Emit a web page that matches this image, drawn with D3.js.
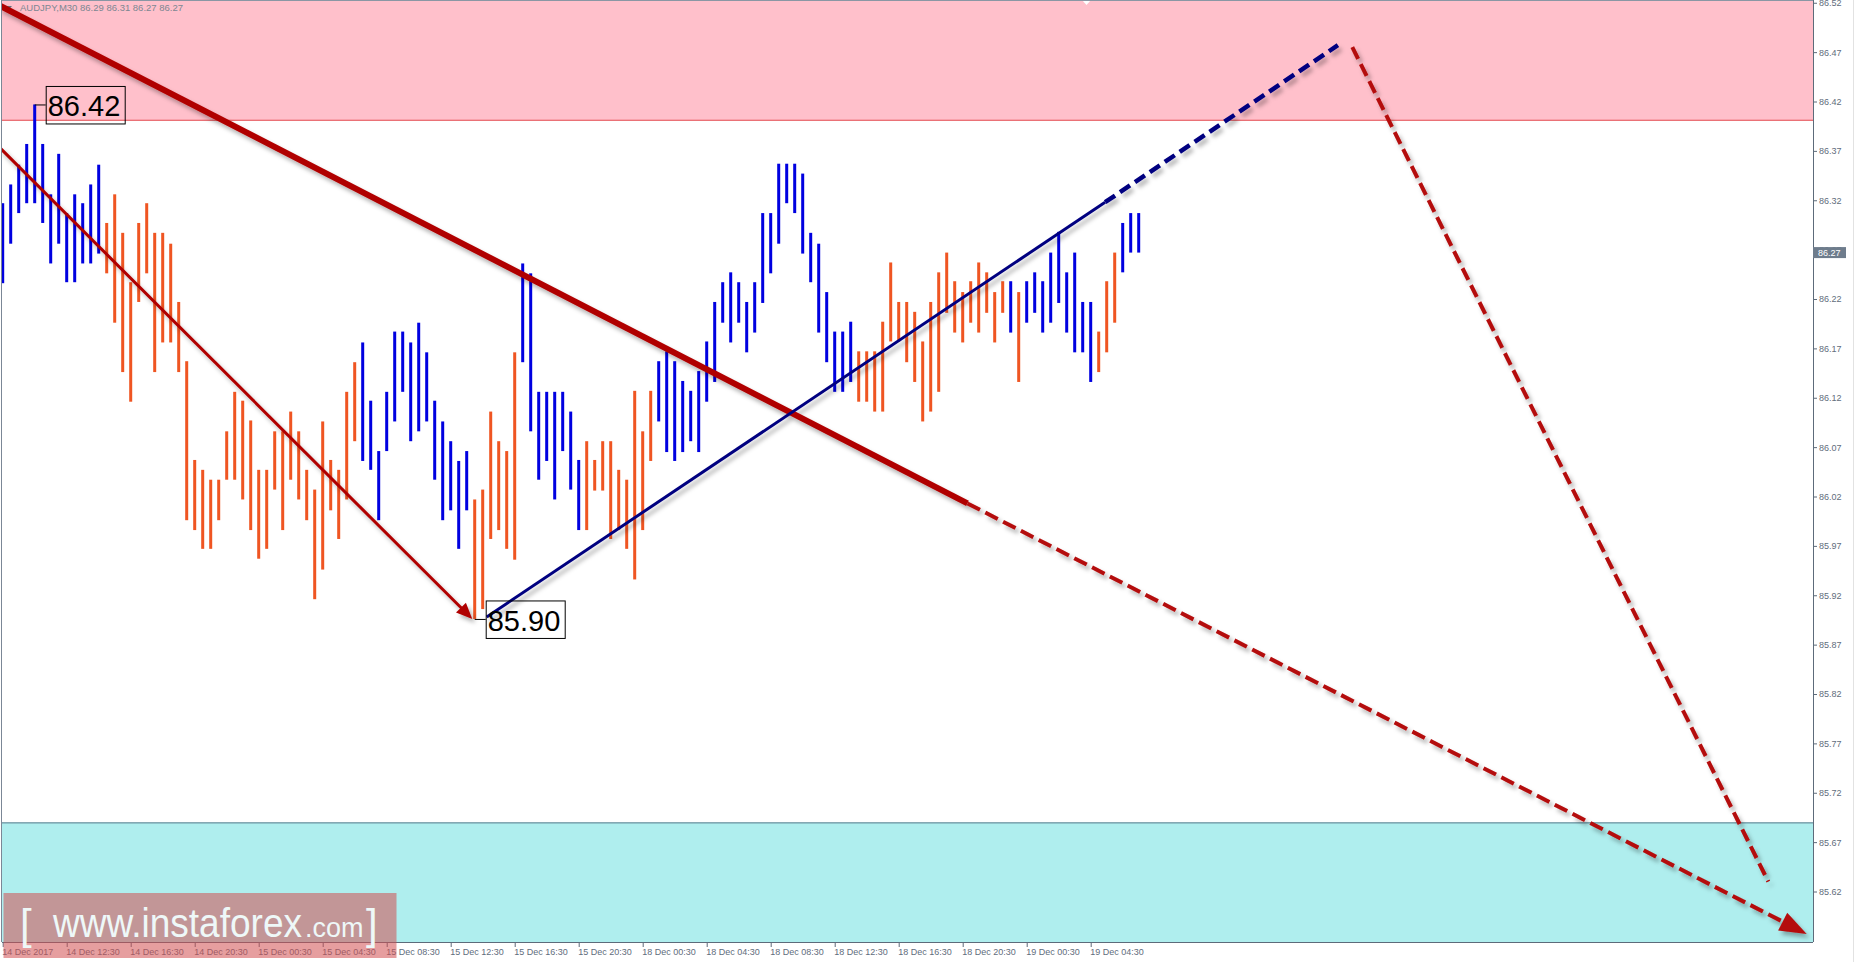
<!DOCTYPE html>
<html><head><meta charset="utf-8">
<script src="https://cdn.jsdelivr.net/npm/d3@7"></script>
<style>
html,body{margin:0;padding:0;background:#fff;overflow:hidden}
svg{display:block}
text{font-family:"Liberation Sans",Arial,sans-serif}
</style></head><body>
<svg id="c" width="1855" height="962"></svg>
<script>
// ---------------- DATA ----------------
const symbolInfo = "AUDJPY,M30  86.29 86.31 86.27 86.27";
const timeLabels = ["14 Dec 2017","14 Dec 12:30","14 Dec 16:30","14 Dec 20:30","15 Dec 00:30","15 Dec 04:30","15 Dec 08:30","15 Dec 12:30","15 Dec 16:30","15 Dec 20:30","18 Dec 00:30","18 Dec 04:30","18 Dec 08:30","18 Dec 12:30","18 Dec 16:30","18 Dec 20:30","19 Dec 00:30","19 Dec 04:30"];
const timeTickBars = [0,8,16,24,32,40,48,56,64,72,80,88,96,104,112,120,128,136];
const priceTicks = [86.52,86.47,86.42,86.37,86.32,86.27,86.22,86.17,86.12,86.07,86.02,85.97,85.92,85.87,85.82,85.77,85.72,85.67,85.62];

const barHigh = [
 86.317,86.336,86.356,86.377,86.417,86.377,86.326,86.367,86.307,86.326,
 86.317,86.336,86.356,86.297,86.326,86.287,86.237,86.297,86.317,86.287,
 86.287,86.276,86.217,86.157,86.057,86.047,86.037,86.037,86.086,86.126,
 86.117,86.097,86.047,86.047,86.086,86.086,86.106,86.086,86.047,86.027,
 86.096,86.057,86.047,86.126,86.156,86.176,86.117,86.066,86.126,86.187,
 86.187,86.176,86.196,86.166,86.117,86.096,86.076,86.056,86.066,86.017,
 86.027,86.106,86.076,86.066,86.166,86.256,86.246,86.126,86.126,86.126,
 86.126,86.106,86.057,86.076,86.057,86.076,86.076,86.047,86.037,86.127,
 86.086,86.127,86.157,86.167,86.157,86.137,86.127,86.147,86.177,86.217,
 86.237,86.247,86.237,86.217,86.237,86.307,86.307,86.357,86.357,86.357,
 86.347,86.287,86.276,86.227,86.187,86.187,86.197,86.167,86.167,86.167,
 86.197,86.257,86.217,86.217,86.207,86.177,86.217,86.247,86.267,86.238,
 86.227,86.238,86.257,86.247,86.227,86.238,86.238,86.227,86.238,86.247,
 86.238,86.267,86.288,86.247,86.267,86.217,86.217,86.187,86.238,86.267,
 86.297,86.307,86.307];
const barLow = [
 86.236,86.276,86.307,86.317,86.317,86.297,86.256,86.276,86.237,86.237,
 86.256,86.256,86.266,86.246,86.196,86.146,86.116,86.217,86.246,86.146,
 86.176,86.176,86.146,85.996,85.986,85.967,85.967,85.996,86.037,86.037,
 86.017,85.986,85.957,85.967,86.027,85.986,86.037,86.017,85.996,85.916,
 85.946,86.006,85.977,86.017,86.076,86.056,86.047,85.996,86.066,86.096,
 86.126,86.076,86.086,86.096,86.037,85.996,86.006,85.967,86.006,85.896,
 85.906,85.977,85.986,85.967,85.956,86.156,86.086,86.037,86.056,86.017,
 86.066,86.027,85.986,85.986,86.026,86.026,85.977,85.986,85.967,85.936,
 85.986,86.056,86.096,86.065,86.056,86.065,86.076,86.065,86.116,86.136,
 86.196,86.176,86.196,86.166,86.186,86.216,86.246,86.276,86.317,86.307,
 86.266,86.237,86.186,86.156,86.126,86.126,86.136,86.116,86.116,86.106,
 86.106,86.177,86.177,86.156,86.136,86.096,86.106,86.126,86.206,86.186,
 86.176,86.196,86.186,86.206,86.176,86.206,86.186,86.136,86.196,86.206,
 86.186,86.196,86.216,86.186,86.166,86.166,86.136,86.146,86.166,86.196,
 86.247,86.267,86.267];
// b = blue bar, o = orange bar
const barDir = ("bbbbbbbbbb"+"bbbooooooo"+"oooooooooo"+"oooooooooo"+"ooooobbbbb"+
                "bbbbbbbbbo"+"ooooobbbbb"+"bbbooooooo"+"oobbbbbbbb"+"bbbbbbbbbb"+
                "bbbbbbbooo"+"oooooooooo"+"oooooobobb"+"bbbbbbbooo"+"bbb").split("");

const resistanceZone = [86.401, 86.56];
const supportZone = [85.55, 85.69];
const lastClose = 86.267;
const markLabels = [{text:"86.42", bar:4, price:86.417}, {text:"85.90", bar:59, price:85.896}];
// wave / trend lines in (bar index, price)
const mainTrend = [{i:-0.34,p:86.517},{i:120.6,p:86.013},{i:225.5,p:85.577}];
const waveDown = [{i:-0.34,p:86.373},{i:58.7,p:85.896}];
const waveUp = [{i:60.5,p:85.898},{i:137.8,p:86.318},{i:166.9,p:86.477}];
const waveNext = [{i:168.7,p:86.475},{i:220.7,p:85.630}];

// ---------------- LAYOUT ----------------
const L = 2, R = 1813, T = 0, B = 942;
const BLUE = "#0000e0", ORANGE = "#ef5522", DRED = "#b00000", NAVY = "#000080";
const svg = d3.select("#c");
const x = d3.scaleLinear().domain([0, 142]).range([2.7, 1138.7]);
const y = d3.scaleLinear().domain([85.62, 86.52]).range([891.5, 2.75]);

const defs = svg.append("defs");
defs.append("clipPath").attr("id","plot").append("rect").attr("x",L).attr("y",T).attr("width",R-L).attr("height",B-T);
const f = defs.append("filter").attr("id","sh").attr("x","-10%").attr("y","-10%").attr("width","130%").attr("height","130%");
f.append("feDropShadow").attr("dx",3).attr("dy",4).attr("stdDeviation",2.2).attr("flood-color","#000").attr("flood-opacity",0.3);

svg.append("rect").attr("width",1855).attr("height",962).attr("fill","#fff");
const plot = svg.append("g").attr("clip-path","url(#plot)");

// zones
plot.append("rect").attr("x",L).attr("width",R-L)
  .attr("y",y(resistanceZone[1])).attr("height",y(resistanceZone[0])-y(resistanceZone[1])).attr("fill","#ffc0cb");
plot.append("line").attr("x1",L).attr("x2",R).attr("y1",y(resistanceZone[0])).attr("y2",y(resistanceZone[0]))
  .attr("stroke","#e4484e").attr("stroke-width",1);
plot.append("rect").attr("x",L).attr("width",R-L)
  .attr("y",y(supportZone[1])).attr("height",y(supportZone[0])-y(supportZone[1])).attr("fill","#afeeee");
plot.append("line").attr("x1",L).attr("x2",R).attr("y1",y(supportZone[1])+0.5).attr("y2",y(supportZone[1])+0.5)
  .attr("stroke","#5a7a8c").attr("stroke-width",1);

// title
plot.append("path").attr("d","M5,6L12,6L8.5,10Z").attr("fill","#6a7480");
plot.append("text").attr("x",20).attr("y",11).attr("font-size",9.5).attr("fill","#7d8792").text(symbolInfo);
// shift marker
plot.append("path").attr("d","M1082,0L1091,0L1086.5,5Z").attr("fill","#fff");

// bars
const bars = barHigh.map((h,i)=>({i, h, l:barLow[i], d:barDir[i]}));
plot.append("g").selectAll("rect").data(bars).join("rect")
  .attr("x",d=>x(d.i)-1.5).attr("width",3)
  .attr("y",d=>y(d.h)).attr("height",d=>Math.max(1,y(d.l)-y(d.h)))
  .attr("fill",d=>d.d==="b"?BLUE:ORANGE);

// lines
const P = d => [x(d.i), y(d.p)];
function arrowHead(p0,p1,len,hw){
  const dx=p1[0]-p0[0], dy=p1[1]-p0[1], n=Math.hypot(dx,dy), ux=dx/n, uy=dy/n;
  const bx=p1[0]-ux*len, by=p1[1]-uy*len;
  return {d:`M${p1[0]},${p1[1]}L${bx-uy*hw},${by+ux*hw}L${bx+uy*hw},${by-ux*hw}Z`, base:[p1[0]-ux*len*0.7, p1[1]-uy*len*0.7]};
}
const lg = plot.append("g").attr("filter","url(#sh)");
function seg(a,b,color,w,dash,arrow){
  const p0=P(a), p1=P(b);
  let end=p1;
  if(arrow){ const ah=arrowHead(p0,p1,arrow[0],arrow[1]); end=ah.base;
    lg.append("path").attr("d",ah.d).attr("fill",color); }
  const ln = lg.append("line").attr("x1",p0[0]).attr("y1",p0[1]).attr("x2",end[0]).attr("y2",end[1])
    .attr("stroke",color).attr("stroke-width",w);
  if(dash) ln.attr("stroke-dasharray",dash);
}
seg(mainTrend[0],mainTrend[1],DRED,6,null,null);
seg(mainTrend[1],mainTrend[2],"#b40a0a",4,"14,6",[27,10]);
seg(waveDown[0],waveDown[1],DRED,3,null,[16,7]);
seg(waveUp[0],waveUp[1],NAVY,3,null,null);
seg(waveUp[1],waveUp[2],NAVY,4.5,"12,6",null);
seg(waveNext[0],waveNext[1],"#b40a0a",4,"13,6",null);

// price mark labels
markLabels.forEach(m=>{
  const ax=x(m.bar), ay=y(m.price);
  plot.append("line").attr("x1",ax).attr("x2",ax+11).attr("y1",ay+0.5).attr("y2",ay+0.5).attr("stroke","#000").attr("stroke-width",1);
  plot.append("rect").attr("x",ax+11.5).attr("y",ay-18).attr("width",79).attr("height",37.5)
    .attr("fill","none").attr("stroke","#000").attr("stroke-width",1);
  plot.append("text").attr("x",ax+13).attr("y",ay+12).attr("font-size",29).attr("fill","#000").text(m.text);
});

// frame
svg.append("line").attr("x1",1.5).attr("x2",1.5).attr("y1",0).attr("y2",B).attr("stroke","#7b8796");
svg.append("line").attr("x1",L).attr("x2",R).attr("y1",0.5).attr("y2",0.5).attr("stroke","#8a96a4");
svg.append("line").attr("x1",1853.5).attr("x2",1853.5).attr("y1",0).attr("y2",962).attr("stroke","#e2e2e2");

// right axis
const ga = svg.append("g").attr("transform",`translate(${R},0)`)
  .call(d3.axisRight(y).tickValues(priceTicks).tickFormat(d3.format(".2f")).tickSize(4).tickPadding(2));
ga.select(".domain").remove();
ga.selectAll("line").attr("stroke","#5d6b7a");
ga.selectAll("text").attr("font-size",9).attr("fill","#5f6d7c").attr("font-family","Liberation Sans,Arial,sans-serif");
svg.append("line").attr("x1",R+0.5).attr("x2",R+0.5).attr("y1",0).attr("y2",B).attr("stroke","#5d6b7a");
// current price label
svg.append("rect").attr("x",R).attr("y",y(lastClose)-5.5).attr("width",33).attr("height",11).attr("fill","#6e7c8c");
svg.append("text").attr("x",R+5).attr("y",y(lastClose)+3.5).attr("font-size",9).attr("fill","#fff").text(d3.format(".2f")(lastClose));

// bottom axis
const gb = svg.append("g").attr("transform",`translate(0,${B})`)
  .call(d3.axisBottom(x).tickValues(timeTickBars).tickFormat((d,k)=>timeLabels[k]).tickSize(5).tickPadding(2));
gb.select(".domain").remove();
gb.selectAll("line").attr("stroke","#5d6b7a");
gb.selectAll("text").attr("font-size",9).attr("fill","#5f6d7c").attr("text-anchor","start").attr("dx",-1)
  .attr("font-family","Liberation Sans,Arial,sans-serif");
svg.append("line").attr("x1",L).attr("x2",R).attr("y1",B+0.5).attr("y2",B+0.5).attr("stroke","#5d6b7a");

// watermark
const wm = svg.append("g");
wm.append("rect").attr("x",3.5).attr("y",893).attr("width",393).attr("height",65).attr("fill","rgb(210,78,80)").attr("opacity",0.55);
wm.append("text").attr("x",20).attr("y",939).attr("font-size",42).attr("font-weight",300).attr("fill","#eef8f8").text("[");
wm.append("text").attr("x",53).attr("y",937).attr("font-size",40).attr("fill","#eef8f8")
  .attr("textLength",249).attr("lengthAdjust","spacingAndGlyphs").text("www.instaforex");
wm.append("text").attr("x",305).attr("y",937).attr("font-size",27).attr("fill","#eef8f8").text(".com");
wm.append("text").attr("x",366).attr("y",939).attr("font-size",42).attr("font-weight",300).attr("fill","#eef8f8").text("]");
</script>
</body></html>
